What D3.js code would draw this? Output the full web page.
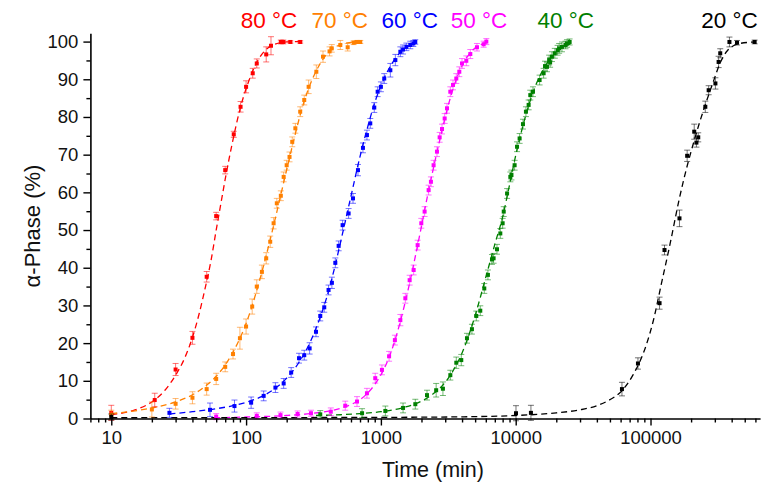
<!DOCTYPE html>
<html><head><meta charset="utf-8">
<script src="https://cdn.jsdelivr.net/npm/d3@7"></script>
<style>
html,body{margin:0;padding:0;background:#fff;}
svg text{font-family:"Liberation Sans",Arial,sans-serif;}
</style></head>
<body><svg id="chart" width="762" height="487"></svg>
<script>
// ---- data (time in min, alpha-phase %, error %) ----
const seriesNames = ["80 °C","70 °C","60 °C","50 °C","40 °C","20 °C"];
const labelTimes = [148, 495, 1640, 5350, 23500, 385000];
const xTicks = [10, 100, 1000, 10000, 100000];
const yTicks = [0,10,20,30,40,50,60,70,80,90,100];

const red80 = [[10,1.5,2.0],[21,4.9,1.8],[30,13.0,1.6],[40,21.4,1.7],[51,37.6,1.4],[60,53.7,1.0],[70,65.9,1.0],[81,75.4,0.8],[91,82.7,1.4],[100,88.0,1.6],[112,91.6,1.3],[120,94.2,1.2],[141,96.6,2.0],[153,98.9,2.4],[181,99.9,0.5],[189,99.9,0.5],[213,99.9,0.3],[252,99.9,0.3]];
const orange70 = [[10,1.0,1.2],[20,2.4,2.0],[30,3.9,1.4],[40,5.5,1.6],[51,7.8,1.6],[60,10.5,1.5],[70,13.7,1.3],[80,17.1,1.3],[90,21.3,2.9],[100,24.4,2.0],[111,29.7,2.0],[120,35.0,1.8],[131,38.9,1.8],[141,42.5,1.5],[151,46.9,1.5],[160,51.8,1.5],[169,57.1,1.3],[181,59.1,1.3],[190,64.1,1.3],[200,67.2,1.3],[210,69.4,1.3],[220,73.4,1.3],[232,77.0,1.3],[252,81.4,1.3],[270,84.5,1.3],[291,88.0,1.8],[332,92.0,1.8],[372,96.0,1.5],[416,97.4,1.2],[432,98.2,1.0],[500,99.1,1.2],[567,98.5,1.0],[628,99.7,0.5],[664,99.9,0.4],[703,99.9,0.4]];
const blue60 = [[27,1.5,1.2],[54,2.3,1.8],[82,3.3,1.6],[109,4.2,1.5],[135,6.0,1.3],[165,8.2,1.3],[190,9.3,1.3],[216,12.2,1.3],[247,16.0,1.3],[270,16.8,1.3],[296,18.6,1.5],[330,23.0,1.3],[355,27.2,1.3],[380,29.5,1.3],[409,34.1,1.3],[433,36.0,1.5],[459,41.3,1.3],[486,45.8,1.3],[520,51.3,1.3],[576,54.4,1.3],[621,58.4,1.3],[676,65.9,1.5],[736,71.8,1.3],[788,75.2,1.3],[834,78.3,1.3],[893,82.5,1.3],[946,86.7,1.3],[1000,88.0,1.3],[1059,90.2,1.3],[1175,92.4,1.8],[1280,95.1,1.5],[1394,97.3,1.3],[1460,97.9,1.2],[1545,98.6,1.0],[1652,99.1,1.0],[1740,99.5,0.8],[1799,99.9,0.6]];
const magenta50 = [[60,0.5,0.8],[120,0.7,0.8],[180,0.9,0.8],[241,1.2,0.8],[303,1.4,0.8],[425,1.8,1.0],[544,3.4,1.2],[665,4.5,1.3],[788,6.7,1.3],[908,10.7,1.3],[1018,12.9,1.3],[1150,16.5,1.3],[1270,20.8,1.3],[1394,26.1,1.5],[1518,31.9,1.3],[1634,36.7,1.3],[1750,39.4,1.3],[1873,46.0,1.3],[1994,51.8,1.3],[2110,54.9,1.3],[2260,60.6,1.3],[2350,62.8,1.3],[2460,67.2,1.3],[2606,70.8,1.3],[2728,74.6,1.3],[2840,76.8,1.3],[2972,79.6,1.3],[3093,82.3,1.3],[3273,86.7,1.3],[3427,88.5,1.3],[3625,90.2,1.3],[3816,92.0,1.3],[3996,94.2,1.3],[4300,94.9,1.3],[4605,96.7,1.2],[5160,98.5,1.0],[5785,99.3,0.8],[6055,100.0,0.8]];
const green40 = [[355,1.1,1.0],[725,1.4,1.2],[1079,2.0,1.3],[1460,2.8,1.3],[1800,3.8,1.3],[2198,6.2,1.3],[2570,7.5,1.8],[2885,7.9,1.8],[3274,11.5,1.3],[3625,14.8,1.5],[3947,15.5,1.5],[4350,21.3,1.3],[4735,23.7,1.3],[5100,27.2,1.3],[5460,28.6,1.3],[5847,34.5,1.3],[6222,38.1,1.3],[6668,42.2,1.3],[6855,42.5,1.3],[7263,44.9,1.3],[7688,49.1,1.3],[8000,51.8,1.3],[8150,54.9,1.3],[8630,59.7,1.3],[9125,64.1,1.3],[9300,64.6,1.3],[9815,67.2,1.3],[10230,72.1,1.3],[10690,74.3,1.3],[11320,78.1,1.3],[11910,81.4,1.3],[12470,83.2,1.3],[12830,85.8,1.3],[13430,86.7,1.3],[15040,89.8,1.3],[16110,91.6,1.3],[16500,93.5,1.3],[17060,93.3,1.3],[17700,95.1,1.3],[18000,94.5,1.3],[18570,96.0,1.3],[19500,96.9,1.3],[20460,97.7,1.3],[21000,98.2,1.3],[22040,98.6,1.3],[23400,99.1,1.0],[24000,99.5,1.0],[25120,99.9,0.8]];
const black20 = [[10,0.4,0.8],[10050,1.4,2.0],[12970,1.5,2.0],[61400,7.8,1.8],[80700,14.6,1.5],[116700,30.6,1.6],[127000,44.7,1.3],[164000,53.1,2.2],[187000,69.7,1.5],[211000,76.1,2.0],[219000,73.2,1.2],[226000,74.6,1.2],[255000,82.7,1.5],[270000,87.1,1.2],[303000,88.9,1.5],[320000,94.6,1.5],[329000,96.9,1.2],[385000,99.9,1.3],[438000,99.7,0.6],[592000,99.9,0.5]];

// fitted (dashed) curves
const red80Fit = [[10,1.0],[15,2.3],[20,4.4],[25,7.5],[30,11.5],[35,16],[40,21.5],[45,28],[50,35],[55,42],[60,50],[65,57],[70,63.5],[80,74],[90,82],[100,87.5],[110,91.5],[120,94.5],[140,97.8],[160,99.2],[200,99.9],[260,100]];
const orange70Fit = [[10,1.3],[20,2.8],[30,4.4],[40,6.3],[50,8.6],[60,11.2],[70,14.2],[80,17.6],[90,21.3],[100,25.2],[120,34],[140,42.8],[160,51.2],[180,59],[200,66],[230,75],[260,82.3],[300,88.8],[350,93.8],[400,96.8],[500,99.2],[600,99.8],[710,100]];
const blue60Fit = [[27,1.2],[40,1.8],[60,2.6],[80,3.4],[100,4.3],[130,5.8],[160,7.7],[200,10.7],[250,15.2],[300,20.4],[350,26.3],[400,32.6],[450,39.5],[500,46.5],[550,53],[600,59],[700,69.5],[800,77.5],[900,83.8],[1000,88.3],[1200,94],[1400,97.2],[1600,98.8],[1800,99.6]];
const magenta50Fit = [[58,0.2],[100,0.4],[200,0.8],[300,1.3],[400,1.9],[500,2.7],[600,3.7],[700,5.0],[800,6.8],[900,9],[1000,11.6],[1200,18],[1400,26],[1600,34.5],[1800,43],[2000,51],[2200,58.5],[2500,67.8],[2800,75.5],[3200,83.8],[3600,89.7],[4000,93.6],[4600,97],[5200,98.7],[6100,99.7]];
const green40Fit = [[330,0.8],[500,1.0],[700,1.3],[1000,1.8],[1500,3.0],[2000,4.6],[2500,6.8],[3000,9.6],[3500,13.2],[4000,17.4],[4500,22.2],[5000,27.3],[5500,32.5],[6000,37.5],[6500,42],[7000,46.2],[8000,53.5],[9000,62],[10000,69.8],[11000,76],[12000,81],[13000,85],[14000,88.2],[16000,92.6],[18000,95.4],[20000,97.2],[22500,98.6],[25500,99.4]];
const black20Fit = [[10,0.2],[1000,0.3],[5000,0.5],[10000,0.8],[20000,1.5],[30000,2.3],[40000,3.4],[50000,5.0],[60000,7.0],[74000,11.5],[93000,19.5],[105000,26],[120000,35.5],[140000,46.5],[164000,58.5],[187000,67],[210000,73.5],[231000,78.5],[251000,82.5],[290000,89],[330000,94.5],[370000,97.5],[460000,99.5],[600000,99.9]];

const seriesData = [red80, orange70, blue60, magenta50, green40, black20];
const seriesFits = [red80Fit, orange70Fit, blue60Fit, magenta50Fit, green40Fit, black20Fit];
const colors = ["#FF0000","#FF8000","#0000FF","#FF00FF","#008000","#000000"];

// ---- layout ----
const svg = d3.select("#chart");
const x = d3.scaleLog().domain([7, 650000]).range([90.4, 760.1]);
const y = d3.scaleLinear().domain([0, 102.2]).range([418.5, 33.3]);

// fits
const line = d3.line().x(d => x(d[0])).y(d => y(d[1])).curve(d3.curveMonotoneX);
seriesFits.forEach((f, i) => {
  svg.append("path").attr("d", line(f)).attr("fill", "none")
    .attr("stroke", colors[i]).attr("stroke-width", 1.3)
    .attr("stroke-dasharray", "6,4");
});

// error bars + markers
seriesData.forEach((s, i) => {
  const g = svg.append("g");
  const eb = g.append("g").attr("stroke", colors[i]).attr("stroke-opacity", 0.55).attr("stroke-width", 1);
  s.forEach(d => {
    const cx = x(d[0]), y1 = y(d[1] - d[2]), y2 = y(d[1] + d[2]);
    eb.append("line").attr("x1", cx).attr("x2", cx).attr("y1", y1).attr("y2", y2);
    eb.append("line").attr("x1", cx - 3).attr("x2", cx + 3).attr("y1", y1).attr("y2", y1);
    eb.append("line").attr("x1", cx - 3).attr("x2", cx + 3).attr("y1", y2).attr("y2", y2);
  });
  g.selectAll("rect").data(s).join("rect")
    .attr("x", d => x(d[0]) - 2).attr("y", d => y(d[1]) - 2)
    .attr("width", 4).attr("height", 4).attr("fill", colors[i]);
});

// axes
const minorX = [];
for (let e = 0; e <= 5; e++) for (let m = 1; m <= 9; m++) {
  const v = m * Math.pow(10, e);
  if (v >= 7 && v <= 650000 && m !== 1) minorX.push(v);
}
const xAxis = svg.append("g").attr("transform", "translate(0,418.5)");
xAxis.call(d3.axisBottom(x).tickValues(xTicks).tickFormat(d3.format("d")).tickSize(7).tickSizeOuter(0).tickPadding(5));
xAxis.append("g").call(d3.axisBottom(x).tickValues(minorX).tickFormat("").tickSize(4).tickSizeOuter(0))
  .select(".domain").remove();

const minorY = d3.range(5, 101, 10);
const yAxis = svg.append("g").attr("transform", "translate(90.4,0)");
yAxis.call(d3.axisLeft(y).tickValues(yTicks).tickSize(7).tickSizeOuter(0).tickPadding(5));
yAxis.append("g").call(d3.axisLeft(y).tickValues(minorY).tickFormat("").tickSize(4).tickSizeOuter(0))
  .select(".domain").remove();

svg.selectAll(".domain").attr("stroke", "#000").attr("stroke-width", 1.6);
svg.selectAll(".tick line").attr("stroke", "#000").attr("stroke-width", 1.4);
svg.selectAll(".tick text").attr("font-size", 18.5).attr("fill", "#111")
  .attr("font-family", "'Liberation Sans',Arial,sans-serif");

// titles
svg.append("text").attr("x", 433).attr("y", 477).attr("text-anchor", "middle")
  .attr("font-size", 21.5).attr("fill", "#111").text("Time (min)");
svg.append("text").attr("transform", "translate(40,226) rotate(-90)").attr("text-anchor", "middle")
  .attr("font-size", 22).attr("fill", "#111").text("α-Phase (%)");

// series labels
seriesNames.forEach((n, i) => {
  svg.append("text").attr("x", x(labelTimes[i])).attr("y", 28).attr("text-anchor", "middle")
    .attr("font-size", 22.5).attr("fill", colors[i]).text(n);
});
</script></body></html>
